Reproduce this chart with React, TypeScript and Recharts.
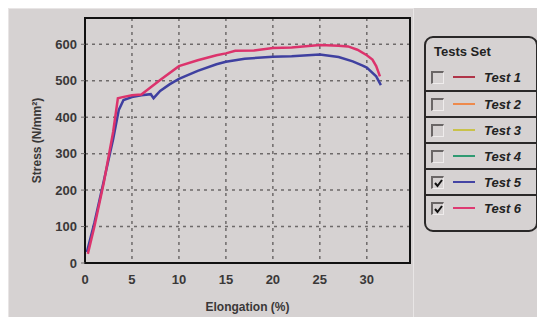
import { LineChart, Line, XAxis, YAxis, CartesianGrid, ReferenceArea } from "recharts";

const elongTicks = [0, 5, 10, 15, 20, 25, 30];
const stressTicks = [0, 100, 200, 300, 400, 500, 600];

const test5Elong = [0.2, 1, 2, 3, 3.6, 4.1, 5, 6, 7, 7.3, 8, 9, 10, 12, 14, 15, 17, 20, 22, 25, 27, 28.5, 29.5, 30, 31, 31.5];
const test5Stress = [30, 110, 225, 340, 420, 447, 455, 460, 463, 452, 472, 490, 505, 527, 545, 552, 560, 566, 567, 572, 565, 553, 542, 536, 512, 488];

const test6Elong = [0.3, 1, 2, 3, 3.5, 4, 5, 6, 7, 8, 10, 12, 14, 15, 16, 18, 20, 22, 25, 27, 28, 29, 30, 30.6, 31, 31.4];
const test6Stress = [25, 100, 220, 360, 452, 455, 460, 462, 482, 502, 540, 556, 570, 575, 582, 583, 590, 591, 598, 596, 594, 585, 570, 558, 540, 512];

const legendNames = ["Test 1", "Test 2", "Test 3", "Test 4", "Test 5", "Test 6"];
const legendColors = ["#b03448", "#ee8a4c", "#c9c24a", "#2f9a72", "#4444a4", "#de3a72"];
const legendChecked = [false, false, false, false, true, true];

const toPoints = (xs: number[], ys: number[]) => xs.map((x, i) => ({ x, y: ys[i] }));

const bg = "#d6d2d2";
const font = "'Liberation Sans', Arial, sans-serif";

function CheckBox({ checked }: { checked: boolean }) {
  return (
    <div
      style={{
        width: 13,
        height: 13,
        borderTop: "2px solid #6a6666",
        borderLeft: "2px solid #6a6666",
        borderRight: "1px solid #efecec",
        borderBottom: "1px solid #efecec",
        boxSizing: "border-box",
        position: "relative",
      }}
    >
      {checked && (
        <svg width="11" height="11" style={{ position: "absolute", left: 0, top: 0 }}>
          <path d="M2 5 L4.5 8 L9 2" stroke="#111" strokeWidth="2" fill="none" />
        </svg>
      )}
    </div>
  );
}

function TestsLegend() {
  return (
    <div
      style={{
        position: "absolute",
        left: 424,
        top: 36,
        width: 114,
        height: 196,
        border: "2px solid #2a2828",
        borderRadius: 9,
        boxSizing: "border-box",
        fontFamily: font,
        color: "#222",
      }}
    >
      <div style={{ fontWeight: "bold", fontSize: 13, paddingLeft: 8, height: 26, lineHeight: "28px" }}>Tests Set</div>
      {legendNames.map((name, i) => (
        <div
          key={name}
          style={{
            display: "flex",
            alignItems: "center",
            height: 26,
            borderTop: i > 0 ? "2px solid #2a2828" : "none",
            boxSizing: "border-box",
            paddingLeft: 5,
          }}
        >
          <CheckBox checked={legendChecked[i]} />
          <div style={{ width: 22, height: 2, background: legendColors[i], marginLeft: 9, marginRight: 9 }} />
          <span style={{ fontWeight: "bold", fontStyle: "italic", fontSize: 13 }}>{name}</span>
        </div>
      ))}
    </div>
  );
}

export default function App() {
  const xTick = { fontSize: 13, fill: "#3a3838", fontFamily: font, fontWeight: "bold" };
  const yTick = { fontSize: 13, fill: "#3a3838", fontFamily: font, fontWeight: "bold" };
  const labelStyle = { fontSize: 12, fill: "#3a3838", fontFamily: font, fontWeight: "bold" };
  return (
    <div style={{ position: "relative", width: 545, height: 325, margin: -8, background: bg, overflow: "hidden" }}>
      <div
        style={{
          position: "absolute",
          left: 8,
          top: 8,
          width: 406,
          height: 313,
          border: "1px solid #e8e5e5",
          boxSizing: "border-box",
        }}
      />
      <div style={{ position: "absolute", left: 0, top: 0 }}>
        <LineChart width={420} height={325} margin={{ top: 18, right: 10, left: 0, bottom: 0 }}>
          <CartesianGrid stroke="#6e6a6a" strokeDasharray="3 4" strokeWidth={1.5} />
          <XAxis
            type="number"
            dataKey="x"
            domain={[0, 34.6]}
            ticks={elongTicks}
            interval={0}
            allowDataOverflow
            height={62}
            tick={xTick}
            tickLine={false}
            axisLine={{ stroke: "#111", strokeWidth: 2 }}
            tickMargin={6}
            label={{ value: "Elongation (%)", position: "insideBottom", offset: 14, style: labelStyle }}
          />
          <YAxis
            type="number"
            domain={[0, 672]}
            ticks={stressTicks}
            interval={0}
            allowDataOverflow
            width={85}
            tick={yTick}
            tickSize={4}
            tickLine={{ stroke: "#6e6a6a" }}
            axisLine={{ stroke: "#111", strokeWidth: 2 }}
            tickMargin={4}
            label={{ value: "Stress (N/mm²)", angle: -90, position: "center", dx: -6, style: labelStyle }}
          />
          <ReferenceArea x1={0} x2={34.6} y1={0} y2={672} fill="none" stroke="#111" strokeWidth={2} />
          <Line
            data={toPoints(test5Elong, test5Stress)}
            dataKey="y"
            name="Test 5"
            stroke="#3f40a0"
            strokeWidth={2.5}
            dot={false}
            isAnimationActive={false}
          />
          <Line
            data={toPoints(test6Elong, test6Stress)}
            dataKey="y"
            name="Test 6"
            stroke="#dc336c"
            strokeWidth={2.5}
            dot={false}
            isAnimationActive={false}
          />
        </LineChart>
      </div>
      <TestsLegend />
    </div>
  );
}
